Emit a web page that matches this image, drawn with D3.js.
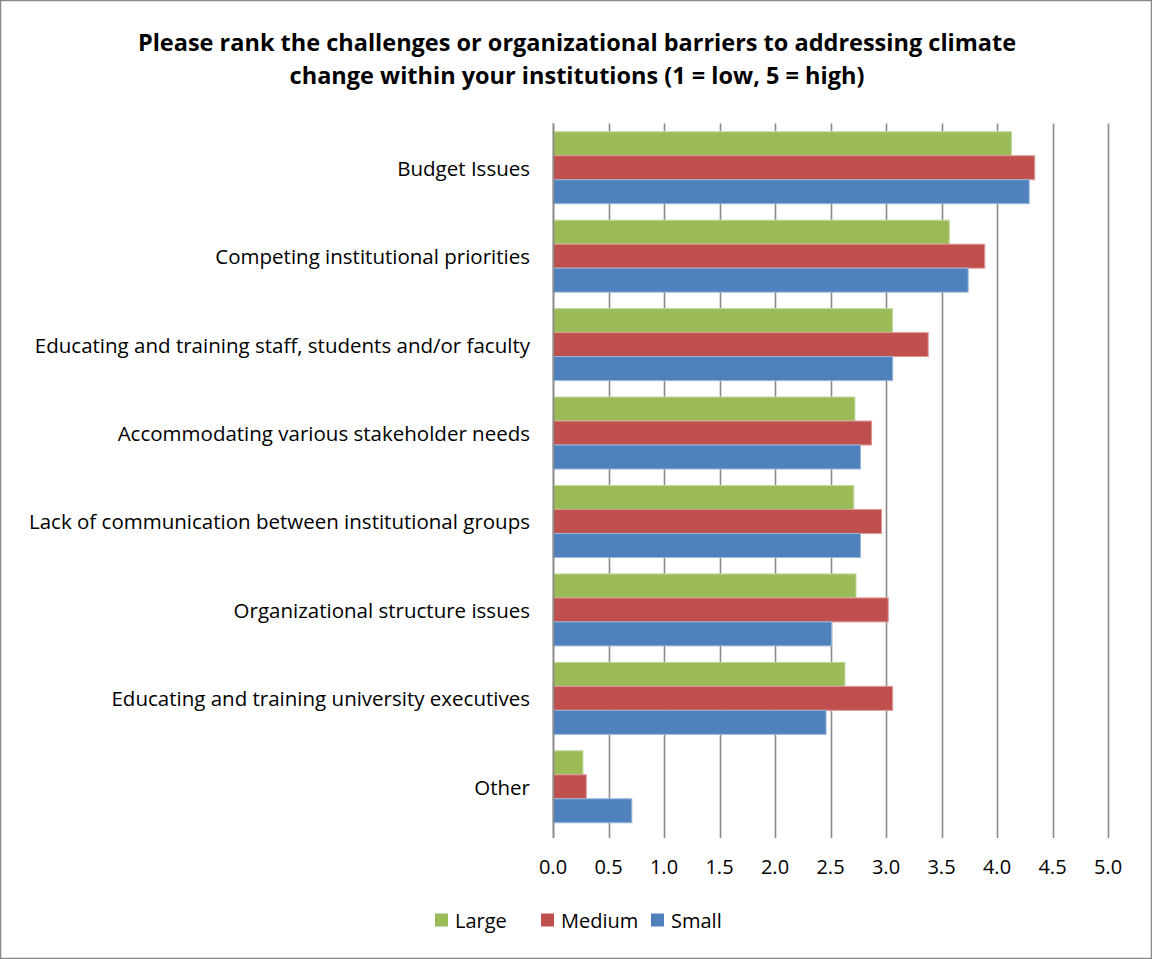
<!DOCTYPE html>
<html>
<head>
<meta charset="utf-8">
<script src="https://cdn.jsdelivr.net/npm/d3@7"></script>
<style>
  html, body { margin: 0; padding: 0; background: #fff; }
  svg { display: block; }
</style>
</head>
<body>
<svg id="chart" width="1152" height="959"></svg>
<script>
// Barrier categories, top to bottom
const categories = [
  "Budget Issues",
  "Competing institutional priorities",
  "Educating and training staff, students and/or faculty",
  "Accommodating various stakeholder needs",
  "Lack of communication between institutional groups",
  "Organizational structure issues",
  "Educating and training university executives",
  "Other"
];

// Mean ranking by institution size (1 = low, 5 = high)
const seriesNames = ["Large", "Medium", "Small"];
const largeValues  = [4.13, 3.57, 3.06, 2.72, 2.71, 2.73, 2.63, 0.27];
const mediumValues = [4.34, 3.89, 3.38, 2.87, 2.96, 3.02, 3.06, 0.30];
const smallValues  = [4.29, 3.74, 3.06, 2.77, 2.77, 2.51, 2.46, 0.71];
const seriesColors = ["#9BBB59", "#C0504D", "#4F81BD"];
const seriesStrokes = ["#c4d9a0", "#dc9a98", "#9ab6da"];

const xTicks = [0, 0.5, 1, 1.5, 2, 2.5, 3, 3.5, 4, 4.5, 5];

const titleLines = [
  "Please rank the challenges or organizational barriers to addressing climate",
  "change within your institutions (1 = low, 5 = high)"
];

const series = seriesNames.map((name, i) => ({
  name,
  color: seriesColors[i],
  stroke: seriesStrokes[i],
  values: [largeValues, mediumValues, smallValues][i]
}));

const svg = d3.select("#chart");
const W = 1152, H = 959;
const font = "'Open Sans', sans-serif";
const labelSize = 20.5;

// Chart frame
svg.append("rect")
  .attr("x", 0.5).attr("y", 0.5)
  .attr("width", W - 1).attr("height", H - 1)
  .attr("fill", "#fff")
  .attr("stroke", "#898989")
  .attr("stroke-width", 1.5);

const plot = { left: 553, right: 1108, top: 123.5, bottom: 831 };

const x = d3.scaleLinear().domain([0, 5]).range([plot.left, plot.right]);

const y = d3.scaleBand()
  .domain(categories)
  .range([plot.top, plot.bottom])
  .paddingInner(0.186)
  .paddingOuter(0.093);

const ySub = d3.scaleBand()
  .domain(seriesNames)
  .range([0, y.bandwidth()]);

// Vertical gridlines with tick marks below the plot
svg.append("g")
  .selectAll("line")
  .data(xTicks)
  .join("line")
  .attr("x1", d => Math.round(x(d)) + 0.5)
  .attr("x2", d => Math.round(x(d)) + 0.5)
  .attr("y1", plot.top)
  .attr("y2", plot.bottom + 7)
  .attr("stroke", "#8a8a8a")
  .attr("stroke-width", 1.6);

// Bars
const groups = svg.append("g")
  .selectAll("g")
  .data(categories)
  .join("g")
  .attr("transform", d => `translate(0,${y(d)})`);

groups.selectAll("rect")
  .data((d, ci) => series.map(s => ({ s, v: s.values[ci] })))
  .join("rect")
  .attr("x", x(0))
  .attr("y", d => ySub(d.s.name))
  .attr("width", d => x(d.v) - x(0))
  .attr("height", ySub.bandwidth())
  .attr("fill", d => d.s.color)
  .attr("stroke", d => d.s.stroke)
  .attr("stroke-width", 1);

// Category axis line
svg.append("line")
  .attr("x1", plot.left + 0.5).attr("x2", plot.left + 0.5)
  .attr("y1", plot.top).attr("y2", plot.bottom + 7)
  .attr("stroke", "#8a8a8a")
  .attr("stroke-width", 1.6);

// Category labels
svg.append("g")
  .selectAll("text")
  .data(categories)
  .join("text")
  .attr("x", 530)
  .attr("y", d => y(d) + y.bandwidth() / 2)
  .attr("text-anchor", "end")
  .attr("dominant-baseline", "central")
  .attr("font-family", font)
  .attr("font-size", labelSize)
  .attr("fill", "#000")
  .text(d => d);

// Value axis labels
svg.append("g")
  .selectAll("text")
  .data(xTicks)
  .join("text")
  .attr("x", d => x(d))
  .attr("y", 866)
  .attr("text-anchor", "middle")
  .attr("dominant-baseline", "central")
  .attr("font-family", font)
  .attr("font-size", 20)
  .attr("fill", "#000")
  .text(d => d3.format(".1f")(d));

// Title
svg.append("g")
  .selectAll("text")
  .data(titleLines)
  .join("text")
  .attr("x", 577)
  .attr("y", (d, i) => 42 + i * 33)
  .attr("text-anchor", "middle")
  .attr("dominant-baseline", "central")
  .attr("font-family", font)
  .attr("font-weight", "bold")
  .attr("font-size", 23.5)
  .attr("fill", "#000")
  .text(d => d);

// Legend
const legendX = [435, 541, 651];
const legend = svg.append("g")
  .selectAll("g")
  .data(series)
  .join("g")
  .attr("transform", (d, i) => `translate(${legendX[i]},920)`);

legend.append("rect")
  .attr("x", 0).attr("y", -6.5)
  .attr("width", 13).attr("height", 13)
  .attr("fill", d => d.color);

legend.append("text")
  .attr("x", 20)
  .attr("y", 0)
  .attr("dominant-baseline", "central")
  .attr("font-family", font)
  .attr("font-size", 20)
  .attr("fill", "#000")
  .text(d => d.name);
</script>
</body>
</html>
